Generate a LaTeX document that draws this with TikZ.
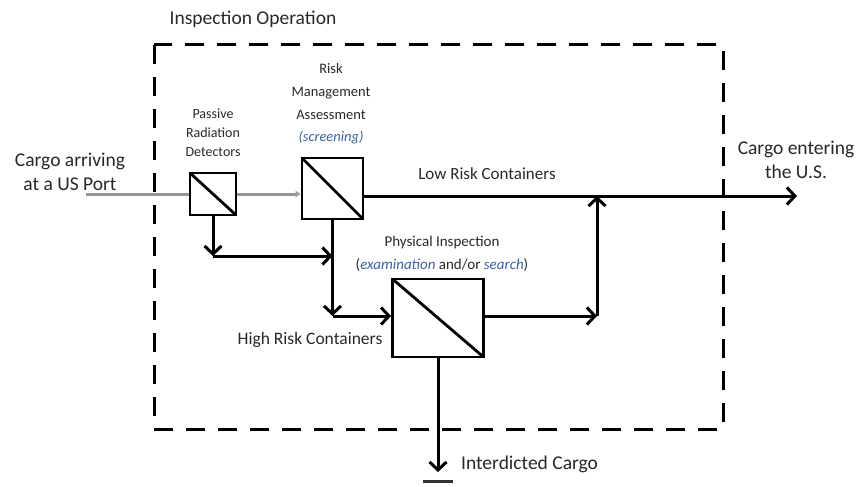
\documentclass[tikz,border=0pt]{standalone}
\usepackage{fontspec}
\setmainfont{Carlito}
\usetikzlibrary{arrows.meta}
\definecolor{txt}{RGB}{40,40,40}
\definecolor{hl}{RGB}{58,98,165}
\definecolor{greyl}{RGB}{150,150,150}
\begin{document}
\begin{tikzpicture}[x=1pt,y=-1pt,
  every node/.style={text=txt,inner sep=0pt},
  splitter/.style={draw=black,line width=2.8pt,fill=white,
    path picture={\draw[line width=2.8pt] (path picture bounding box.north west) -- (path picture bounding box.south east);}},
  flow/.style={draw=black,line width=3pt,-{Straight Barb[length=8pt,width=17pt]}},
  greyline/.style={draw=greyl,line width=3pt},
  bigtxt/.style={font=\fontsize{19.5}{23.5}\selectfont,align=center},
  midtxt/.style={font=\fontsize{17.5}{21}\selectfont,align=center},
  smalltxt/.style={font=\fontsize{14.5}{22.7}\selectfont,align=center},
  boundary/.style={draw=black,line width=3pt,dash pattern=on 19pt off 13pt}
]
\useasboundingbox (0,0) rectangle (868,487);

% boundary
\draw[boundary] (154,45) rectangle (723,429);
\node[bigtxt] (title) at (253,19) {Inspection Operation};

% boxes
\node[splitter,minimum width=46pt,minimum height=42pt] (prd) at (213,194) {};
\node[splitter,minimum width=61pt,minimum height=61pt] (rma) at (332.5,188.5) {};
\node[splitter,minimum width=91pt,minimum height=78pt] (pi) at (438,318) {};

% coordinates
\coordinate (in) at (86,194);
\coordinate (out) at (797,196);
\coordinate (j1) at (213,256);
\coordinate (j2) at (332.5,316);
\coordinate (j3) at (597,316);
\coordinate (down) at (438,472);
\coordinate (barL) at (423,481);
\coordinate (barR) at (453,481);

% connectors
\draw[greyline] (in) -- (prd.west);
\draw[greyline,-{Triangle[open,length=5pt,width=6pt,line width=1.2pt]}] (prd.east) -- (rma.west |- prd.east);
\draw[flow] (rma.east |- out) -- (out);
\draw[flow] (prd.south) -- (j1);
\draw[flow] (j1) -- (j1 -| rma.south);
\draw[flow] (rma.south) -- (j2);
\draw[flow] (j2) -- (pi.west |- j2);
\draw[flow] (pi.east |- j3) -- (j3);
\draw[flow] (j3) -- (j3 |- out);
\draw[flow] (pi.south) -- (down);
\draw[line width=3pt,draw=black!80] (barL) -- (barR);

% labels
\node[bigtxt] (arr) at (70,172) {Cargo arriving\\at a US Port};
\node[smalltxt,font=\fontsize{14}{19}\selectfont] (prdl) at (213,133) {Passive\\Radiation\\Detectors};
\node[smalltxt] (rmal) at (331,104) {Risk\\Management\\Assessment\\\textcolor{hl}{\itshape(screening)}};
\node[midtxt,font=\fontsize{17}{21}\selectfont] (low) at (487,174) {Low Risk Containers};
\node[smalltxt,font=\fontsize{15}{23}\selectfont] (pil) at (442,253.5) {Physical Inspection\\(\textcolor{hl}{\itshape examination} and/or \textcolor{hl}{\itshape search})};
\node[midtxt] (high) at (310,340) {High Risk Containers};
\node[bigtxt,anchor=west] (intd) at (461,464) {Interdicted Cargo};
\node[bigtxt] (ent) at (796,160) {Cargo entering\\the U.S.};
\end{tikzpicture}
\end{document}
